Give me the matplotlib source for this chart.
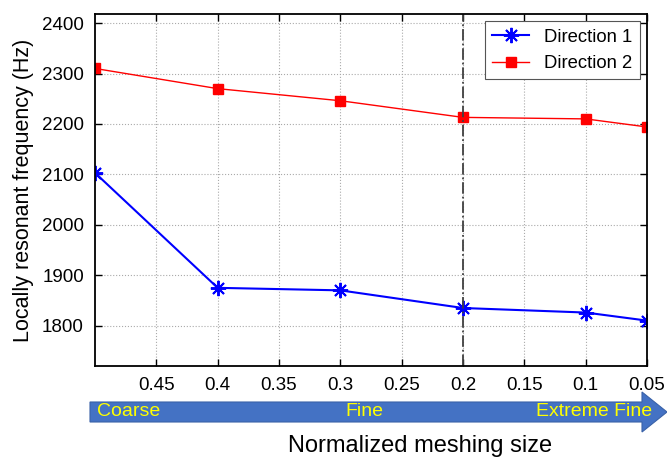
import matplotlib
matplotlib.use('Agg')
import matplotlib.pyplot as plt
from matplotlib.patches import Polygon

plt.rcParams['font.family'] = ['Liberation Sans', 'DejaVu Sans']

mesh_size = [0.5, 0.4, 0.3, 0.2, 0.1, 0.05]
direction1 = [2103, 1875, 1870, 1835, 1826, 1810]
direction2 = [2310, 2270, 2246, 2213, 2210, 2194]
xticks = [0.45, 0.4, 0.35, 0.3, 0.25, 0.2, 0.15, 0.1, 0.05]
xtick_labels = ['0.45', '0.4', '0.35', '0.3', '0.25', '0.2', '0.15', '0.1', '0.05']
yticks = [1800, 1900, 2000, 2100, 2200, 2300, 2400]

W, H = 667, 457
fig = plt.figure(figsize=(W / 100, H / 100), dpi=100)
ax = fig.add_axes([95 / W, 1 - 366 / H, 552 / W, 352 / H])

ax.plot(mesh_size, direction1, '-', marker=(8, 2, 0), color='#0000ff', lw=1.5, ms=11,
        mew=1.4, label='Direction 1')
ax.plot(mesh_size, direction2, '-s', color='#ff0000', lw=1.0, ms=7, label='Direction 2')
ax.axvline(0.2, color='#404040', lw=1.3, ls='-.')

ax.set_xlim(0.5, 0.05)
ax.set_ylim(1720, 2418)
ax.set_xticks(xticks)
ax.set_xticklabels(xtick_labels)
ax.set_yticks(yticks)
ax.tick_params(direction='in', top=True, right=True, labelsize=13.5, length=5, width=1, pad=8)
ax.grid(True, ls=':', color='#aaaaaa', lw=0.8)
for s in ax.spines.values():
    s.set_linewidth(1.3)

ax.set_ylabel('Locally resonant frequency (Hz)', fontsize=15.5, labelpad=6)
leg = ax.legend(loc='upper right', fontsize=13.3, fancybox=False, edgecolor='#555555',
                framealpha=1, borderaxespad=0.4, handlelength=2.0)
leg.get_frame().set_linewidth(0.8)

# blue arrow under the x axis
pts = [(90, 402), (642, 402), (642, 392), (667, 412), (642, 432), (642, 422), (90, 422)]
arrow = Polygon([(x / W, 1 - y / H) for x, y in pts], closed=True, transform=fig.transFigure,
                facecolor='#4472c4', edgecolor='#3a62a8', lw=0.8)
fig.patches.append(arrow)
fig.text(97 / W, 1 - 412 / H, 'Coarse', color='#ffff00', fontsize=14, va='center', ha='left')
fig.text(345 / W, 1 - 412 / H, 'Fine', color='#ffff00', fontsize=14, va='center', ha='left')
fig.text(652 / W, 1 - 412 / H, 'Extreme Fine', color='#ffff00', fontsize=14, va='center', ha='right')
fig.text(420 / W, 1 - 446 / H, 'Normalized meshing size', fontsize=17, va='center', ha='center')

fig.savefig('out.png', dpi=100)
